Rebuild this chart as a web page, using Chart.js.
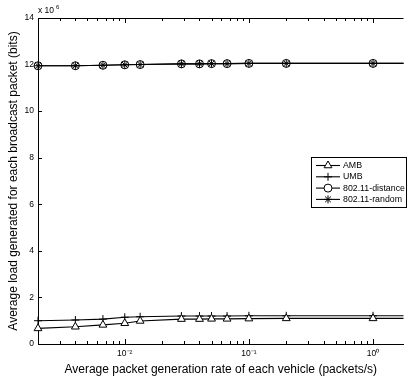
<!DOCTYPE html>
<html>
<head>
<meta charset="utf-8">
<script src="https://cdn.jsdelivr.net/npm/chart.js@4.4.0/dist/chart.umd.min.js"></script>
<style>
  html, body { margin: 0; padding: 0; background: #fff; }
</style>
</head>
<body>
<canvas id="chart" width="409" height="381"></canvas>
<script>
// packet generation rate (packets/s)
const rates = [0.002, 0.004, 0.00667, 0.01, 0.0133, 0.0286, 0.04, 0.05, 0.0667, 0.1, 0.2, 1, 2];

// load per broadcast packet (bits)
const ambLoad = [0.67e6, 0.74e6, 0.82e6, 0.89e6, 0.99e6, 1.07e6, 1.07e6, 1.08e6, 1.08e6, 1.09e6, 1.10e6, 1.10e6, 1.10e6];
const umbLoad = [1.00e6, 1.03e6, 1.07e6, 1.15e6, 1.17e6, 1.20e6, 1.20e6, 1.20e6, 1.20e6, 1.21e6, 1.21e6, 1.21e6, 1.21e6];
const distanceLoad = [11.95e6, 11.95e6, 11.97e6, 11.99e6, 12.0e6, 12.03e6, 12.03e6, 12.04e6, 12.04e6, 12.05e6, 12.05e6, 12.05e6, 12.05e6];
const randomLoad = [11.95e6, 11.95e6, 11.97e6, 11.99e6, 12.0e6, 12.03e6, 12.03e6, 12.04e6, 12.04e6, 12.05e6, 12.05e6, 12.05e6, 12.05e6];

const seriesNames = ["AMB", "UMB", "802.11-distance", "802.11-random"];
const markers = ["triangle", "cross", "circle", "star"];
const yTicks = [0, 2, 4, 6, 8, 10, 12, 14];

const FONT = "'Liberation Sans', Arial, Helvetica, sans-serif";
Chart.defaults.font.family = FONT;
Chart.defaults.color = "#000";

const SUP = { "-": "\u207B", "0": "\u2070", "1": "\u00B9", "2": "\u00B2", "3": "\u00B3" };

function toSeries(values) {
  return rates.map((x, i) => ({ x, y: values[i] }));
}

function makeDataset(label, values, marker) {
  return {
    label,
    data: toSeries(values),
    borderColor: "#000",
    backgroundColor: "#fff",
    borderWidth: 1.1,
    pointStyle: marker,
    pointRadius: marker === "triangle" ? 4.5 : 4,
    pointBorderColor: "#000",
    pointBackgroundColor: marker === "circle" ? "rgba(255,255,255,0)" : "#fff",
    pointBorderWidth: 1,
    tension: 0,
    clip: { left: 10, top: 10, right: 0, bottom: 10 },
  };
}

const datasets = [
  makeDataset(seriesNames[0], ambLoad, markers[0]),
  makeDataset(seriesNames[1], umbLoad, markers[1]),
  makeDataset(seriesNames[2], distanceLoad, markers[2]),
  makeDataset(seriesNames[3], randomLoad, markers[3]),
];

// inward ticks, top frame line, exponent note and boxed legend
const frame = {
  id: "frame",
  afterDraw(chart) {
    const { ctx, chartArea } = chart;
    const xs = chart.scales.x;
    const ys = chart.scales.y;
    ctx.save();
    ctx.strokeStyle = "#000";
    ctx.lineWidth = 1;

    ctx.beginPath();
    ctx.moveTo(chartArea.left, chartArea.top + 0.5);
    ctx.lineTo(chartArea.right, chartArea.top + 0.5);
    ctx.stroke();

    ctx.beginPath();
    yTicks.forEach((v) => {
      const py = Math.round(ys.getPixelForValue(v * 1e6)) + 0.5;
      ctx.moveTo(chartArea.left, py);
      ctx.lineTo(chartArea.left + 4, py);
    });
    xs.ticks.forEach((t) => {
      const lg = Math.log10(t.value);
      const mant = t.value / Math.pow(10, Math.floor(lg + 1e-9));
      if (Math.abs(mant - Math.round(mant)) > 1e-6) return;
      const len = Math.abs(lg - Math.round(lg)) < 1e-6 ? 5 : 3;
      const px = Math.round(xs.getPixelForValue(t.value)) + 0.5;
      ctx.moveTo(px, chartArea.bottom);
      ctx.lineTo(px, chartArea.bottom - len);
      ctx.moveTo(px, chartArea.top);
      ctx.lineTo(px, chartArea.top + len);
    });
    ctx.stroke();

    ctx.fillStyle = "#000";
    ctx.textBaseline = "alphabetic";
    ctx.textAlign = "left";
    ctx.font = "8.5px " + FONT;
    ctx.fillText("x 10", chartArea.left, chartArea.top - 5);
    ctx.font = "6px " + FONT;
    ctx.fillText("6", chartArea.left + 18, chartArea.top - 9);

    // legend
    const bx = 311.5, by = 157.5, bw = 95, bh = 50;
    ctx.fillStyle = "#fff";
    ctx.fillRect(bx, by, bw, bh);
    ctx.strokeRect(bx, by, bw, bh);
    chart.data.datasets.forEach((ds, i) => {
      const ry = 165 + i * 11.3;
      ctx.strokeStyle = "#000";
      ctx.lineWidth = 1.1;
      ctx.beginPath();
      ctx.moveTo(316, ry + 0.5);
      ctx.lineTo(340, ry + 0.5);
      ctx.stroke();
      ctx.lineWidth = 1;
      ctx.fillStyle = "#fff";
      Chart.helpers.drawPoint(ctx, {
        pointStyle: ds.pointStyle,
        radius: ds.pointRadius,
        borderWidth: 1,
        rotation: 0,
      }, 328, ry + 0.5);
      ctx.fillStyle = "#000";
      ctx.font = "8.8px " + FONT;
      ctx.textBaseline = "middle";
      ctx.fillText(ds.label, 343, ry + 0.5);
    });
    ctx.restore();
  },
};

new Chart(document.getElementById("chart"), {
  type: "line",
  data: { datasets },
  options: {
    responsive: false,
    animation: false,
    layout: { padding: { top: 18, right: 0, left: 0, bottom: 0 } },
    plugins: {
      legend: { display: false },
      tooltip: { enabled: false },
    },
    scales: {
      x: {
        type: "logarithmic",
        min: 0.002,
        max: 1.76,
        grid: { display: false, drawTicks: false },
        border: { display: true, color: "#000", width: 1 },
        ticks: {
          autoSkip: false,
          maxRotation: 0,
          padding: 5,
          font: { size: 8.5 },
          callback(value) {
            const lg = Math.log10(value);
            if (Math.abs(lg - Math.round(lg)) > 1e-6) return "";
            const e = String(Math.round(lg));
            return "10" + e.split("").map((c) => SUP[c]).join("");
          },
        },
        title: {
          display: true,
          text: "Average packet generation rate of each vehicle (packets/s)",
          font: { size: 12 },
          padding: { top: 0, bottom: 4 },
        },
        afterFit(scale) {
          scale.height = 37;
        },
      },
      y: {
        min: 0,
        max: 14e6,
        grid: { display: false, drawTicks: false },
        border: { display: true, color: "#000", width: 1 },
        afterBuildTicks(scale) {
          scale.ticks = yTicks.map((v) => ({ value: v * 1e6 }));
        },
        ticks: {
          padding: 4,
          font: { size: 8.5 },
          callback(value) {
            return String(Math.round(value / 1e6));
          },
        },
        title: {
          display: true,
          text: "Average load generated for each broadcast packet (bits)",
          font: { size: 12 },
          padding: { top: 6, bottom: 0 },
        },
        afterFit(scale) {
          scale.width = 38;
        },
      },
    },
  },
  plugins: [frame],
});
</script>
</body>
</html>
